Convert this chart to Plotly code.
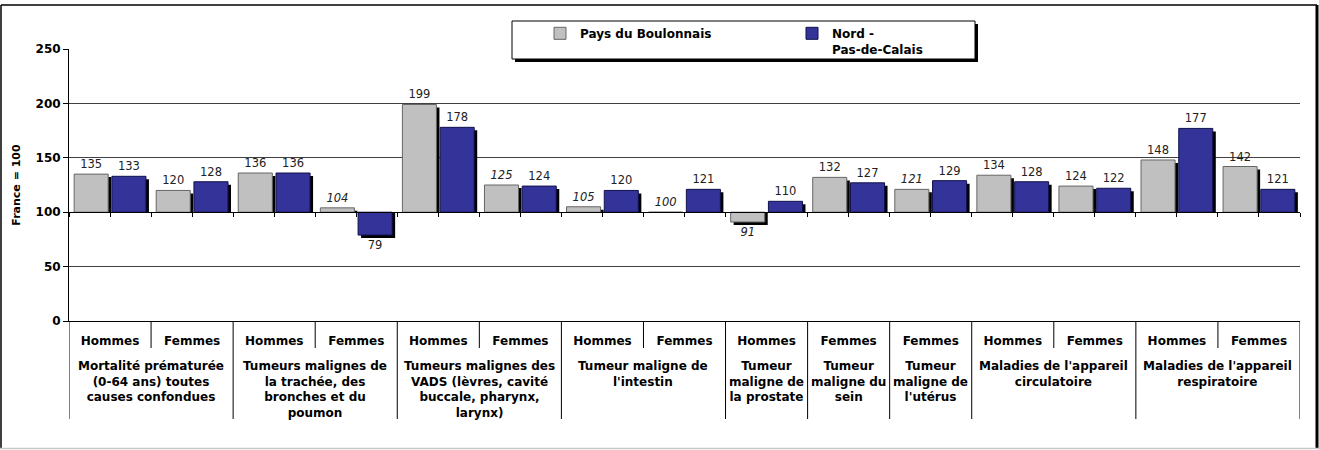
import plotly.graph_objects as go

# ---------------- data ----------------
sub_labels = ["Hommes", "Femmes", "Hommes", "Femmes", "Hommes", "Femmes", "Hommes", "Femmes",
              "Hommes", "Femmes", "Femmes", "Hommes", "Femmes", "Hommes", "Femmes"]
group_labels = [
    "Mortalité prématurée<br>(0-64 ans) toutes<br>causes confondues",
    "Tumeurs malignes de<br>la trachée, des<br>bronches et du<br>poumon",
    "Tumeurs malignes des<br>VADS (lèvres, cavité<br>buccale, pharynx,<br>larynx)",
    "Tumeur maligne de<br>l'intestin",
    "Tumeur<br>maligne de<br>la prostate",
    "Tumeur<br>maligne du<br>sein",
    "Tumeur<br>maligne de<br>l'utérus",
    "Maladies de l'appareil<br>circulatoire",
    "Maladies de l'appareil<br>respiratoire",
]
group_sizes = [2, 2, 2, 2, 1, 1, 1, 2, 2]
boulonnais = [135, 120, 136, 104, 199, 125, 105, 100, 91, 132, 121, 134, 124, 148, 142]
nord_pdc = [133, 128, 136, 79, 178, 124, 120, 121, 110, 127, 129, 128, 122, 177, 121]
boulonnais_italic = [False, False, False, True, False, True, True, True, True, False, True,
                     False, False, False, False]
series_names = ["Pays du Boulonnais", "Nord -<br>Pas-de-Calais"]
REF = 100
y_ticks = [0, 50, 100, 150, 200, 250]

# ---------------- geometry ----------------
W, H = 1319, 450
PL, PR, PT, PB = 69, 1300, 49, 321  # plot area in px
N = len(sub_labels)
XR = [-0.5, N - 0.5]
YR = [0, 250]
px_per_x = (PR - PL) / (XR[1] - XR[0])
px_per_y = (PB - PT) / (YR[1] - YR[0])
SH = 3  # shadow offset px
dx = SH / px_per_x
dy = SH / px_per_y


def px2x(px):
    return (px - PL) / (PR - PL)


def px2y(py):
    return (PB - py) / (PB - PT)


FONT = "DejaVu Sans"
idx = list(range(N))
BW = 0.415
OFF_G = -0.4375
OFF_B = 0.0225

fig = go.Figure()

# shadows
sh_base = REF + dy
for vals, off in [(boulonnais, OFF_G), (nord_pdc, OFF_B)]:
    fig.add_trace(go.Bar(
        x=idx, y=[(v - sh_base) if v != REF else 0 for v in vals], base=sh_base,
        offset=off, width=BW, marker=dict(color="black", line=dict(width=0)),
        xaxis="x2", yaxis="y2", showlegend=False, hoverinfo="skip"))

# bars
g_text = [f"<i>{v}</i>" if it else str(v) for v, it in zip(boulonnais, boulonnais_italic)]
fig.add_trace(go.Bar(
    x=idx, y=[v - REF for v in boulonnais], base=REF, offset=OFF_G, width=BW,
    name=series_names[0], marker=dict(color="#C0C0C0", line=dict(color="#666666", width=1)),
    text=g_text, textposition="outside", constraintext="none", cliponaxis=False,
    outsidetextfont=dict(family=FONT, size=11.5, color="#222222"),
    xaxis="x3", yaxis="y3"))
fig.add_trace(go.Bar(
    x=idx, y=[v - REF for v in nord_pdc], base=REF, offset=OFF_B, width=BW,
    name=series_names[1], marker=dict(color="#333399", line=dict(color="#10104a", width=1)),
    text=[str(v) for v in nord_pdc], textposition="outside", constraintext="none", cliponaxis=False,
    outsidetextfont=dict(family=FONT, size=11.5, color="#222222"),
    xaxis="x3", yaxis="y3"))

# ---------------- shapes & annotations ----------------
shapes = []
annotations = []
group_bounds = [0]
for s in group_sizes:
    group_bounds.append(group_bounds[-1] + s)
for k in range(N + 1):
    b = k - 0.5
    long = k in group_bounds
    shapes.append(dict(type="line", xref="x", yref="paper", x0=b, x1=b, y0=0,
                       y1=px2y(419) if long else px2y(348), line=dict(color="black", width=1)))
for g, lab in enumerate(group_labels):
    center = (group_bounds[g] + group_bounds[g + 1]) / 2 - 0.5
    annotations.append(dict(text=lab, x=center, xref="x", y=px2y(357), yref="paper",
                            yanchor="top", xanchor="center", showarrow=False, align="center",
                            font=dict(family=FONT, size=12, color="black", weight="bold")))

# legend box with shadow
shapes.append(dict(type="rect", xref="paper", yref="paper", x0=px2x(512 + SH), x1=px2x(975 + SH),
                   y0=px2y(59 + SH), y1=px2y(21 + SH), fillcolor="black", line=dict(width=0),
                   layer="above"))
shapes.append(dict(type="rect", xref="paper", yref="paper", x0=px2x(512), x1=px2x(975),
                   y0=px2y(59), y1=px2y(21), fillcolor="white", line=dict(color="black", width=1),
                   layer="above"))
# outer frame
shapes.append(dict(type="line", xref="paper", yref="paper", x0=px2x(1), x1=px2x(1),
                   y0=px2y(5), y1=px2y(448), line=dict(color="black", width=1.5)))
shapes.append(dict(type="line", xref="paper", yref="paper", x0=px2x(1), x1=px2x(1317),
                   y0=px2y(5), y1=px2y(5), line=dict(color="black", width=1.5)))
shapes.append(dict(type="line", xref="paper", yref="paper", x0=px2x(1317), x1=px2x(1317),
                   y0=px2y(5), y1=px2y(448), line=dict(color="black", width=3)))
shapes.append(dict(type="line", xref="paper", yref="paper", x0=px2x(0), x1=px2x(1319),
                   y0=px2y(448.5), y1=px2y(448.5), line=dict(color="#c8c8c8", width=1.5)))

half_ticks = [XR[0] + 0.5 * k for k in range(2 * N + 1)]

fig.update_layout(
    width=W, height=H, template="none",
    margin=dict(l=PL, r=W - PR, t=PT, b=H - PB, autoexpand=False),
    paper_bgcolor="white", plot_bgcolor="white",
    font=dict(family=FONT, size=12, color="black"),
    barmode="overlay",
    showlegend=True,
    legend=dict(orientation="h", x=px2x(540), y=px2y(19), xanchor="left", yanchor="top",
                bgcolor="rgba(0,0,0,0)", borderwidth=0, entrywidth=207, valign="top",
                traceorder="normal",
                font=dict(family=FONT, size=12, color="black", weight="bold")),
    xaxis=dict(range=XR, tickvals=idx, ticktext=sub_labels, ticks="", showline=True,
               linecolor="black", linewidth=1, showgrid=False, zeroline=False,
               tickfont=dict(family=FONT, size=12, color="black", weight="bold"),
               ticklabelstandoff=9),
    yaxis=dict(range=YR, tickvals=y_ticks, showgrid=True, gridcolor="#404040", gridwidth=1,
               showline=True, linecolor="black", linewidth=1, ticks="outside", ticklen=5,
               tickcolor="black", zeroline=False,
               tickfont=dict(family=FONT, size=12, color="black", weight="bold"),
               title=dict(text="France = 100", standoff=12,
                          font=dict(family=FONT, size=11, color="black", weight="bold"))),
    xaxis2=dict(overlaying="x", anchor="y2", range=[XR[0] - dx, XR[1] - dx], visible=False),
    yaxis2=dict(overlaying="y", anchor="x2", range=[YR[0] + dy, YR[1] + dy], visible=False),
    xaxis3=dict(overlaying="x", anchor="free", position=REF / YR[1], range=XR, showline=True,
                linecolor="black", linewidth=1, ticks="outside", tickvals=half_ticks, ticklen=4,
                tickcolor="black", showticklabels=False, showgrid=False, zeroline=False),
    yaxis3=dict(overlaying="y", anchor="x3", range=YR, visible=False),
    shapes=shapes,
    annotations=annotations,
)

fig.write_html("out.html", config={"displayModeBar": False},
               post_script="document.body.style.margin='0';")
